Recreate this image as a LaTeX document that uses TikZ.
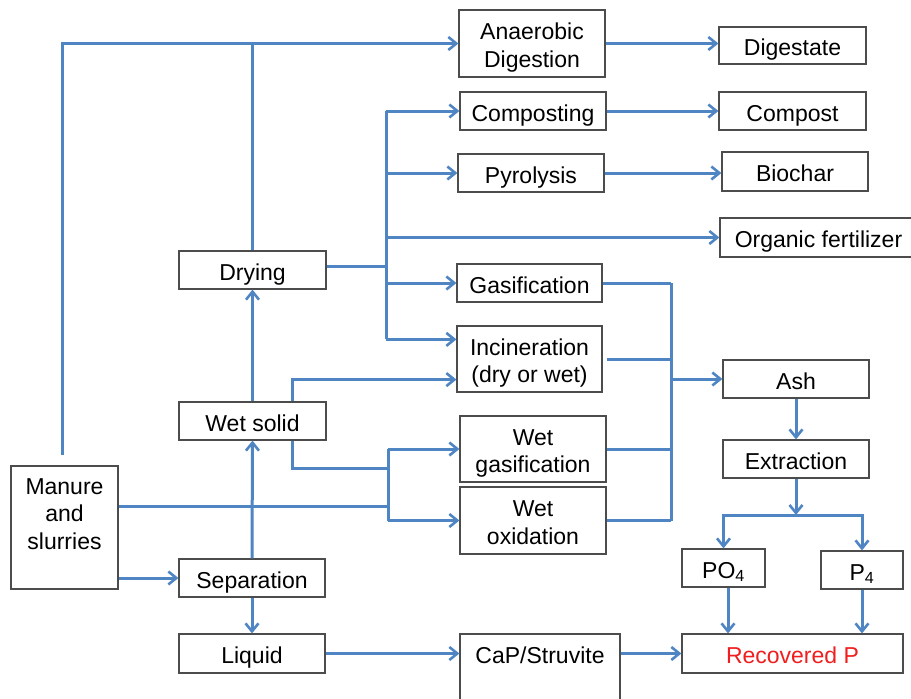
\documentclass[tikz,border=0pt]{standalone}
\usepackage{fontspec}
\setmainfont{Liberation Sans}
\usetikzlibrary{arrows.meta}
\definecolor{flowblue}{RGB}{80,133,196}
\definecolor{recred}{RGB}{240,30,30}
\tikzset{
  blk/.style={draw=black!70, line width=1.2pt, fill=white, align=center,
    inner sep=0pt, font=\fontsize{23}{27.5}\selectfont},
  txt/.style={text height=#1, text depth=0pt},
  txt/.default=20pt,
  bline/.style={draw=flowblue, line width=3pt},
  flow/.style={bline, -{Straight Barb[length=8pt,width=13pt,line width=2.6pt]}}
}

\begin{document}
\begin{tikzpicture}[x=1pt,y=-1pt]
        \useasboundingbox (0,0) rectangle (911,699);
        % 左侧方框
        \node[blk, minimum width=107pt, minimum height=123pt] (manure) at (64.5,527.5) {Manure\\and\\slurries\\~};
        \node[blk, txt, minimum width=147pt, minimum height=38pt] (drying) at (252.5,270) {Drying};
        \node[blk, txt, minimum width=147pt, minimum height=38pt] (wetsolid) at (252.5,421) {Wet solid};
        \node[blk, txt, minimum width=146pt, minimum height=38pt] (separ) at (252,578) {Separation};
        \node[blk, txt, minimum width=146pt, minimum height=39pt] (liquid) at (252,653.5) {Liquid};
        % 中间方框
        \node[blk, txt=47pt, minimum width=146pt, minimum height=67pt] (anaer) at (532,43.5) {Anaerobic\\Digestion};
        \node[blk, txt, minimum width=146pt, minimum height=38pt] (compo) at (533,111) {Composting};
        \node[blk, txt, minimum width=146pt, minimum height=38pt] (pyro) at (531,173) {Pyrolysis};
        \node[blk, txt, minimum width=145pt, minimum height=38pt] (gasif) at (529.5,283) {Gasification};
        \node[blk, txt=47pt, minimum width=145pt, minimum height=66pt] (incin) at (529.5,359) {Incineration\\(dry or wet)};
        \node[blk, txt=47pt, minimum width=146pt, minimum height=66pt] (wetgas) at (533,449) {Wet\\gasification};
        \node[blk, txt=47pt, minimum width=146pt, minimum height=67pt] (wetox) at (533,520.5) {Wet\\oxidation};
        \node[blk, minimum width=160pt, minimum height=97pt] (caps) at (540,682.5) {CaP/Struvite\\~\\~};
        % 右侧方框
        \node[blk, txt, minimum width=147pt, minimum height=37pt] (digest) at (792.5,45.5) {Digestate};
        \node[blk, txt, minimum width=147pt, minimum height=38pt] (compost) at (792.5,111) {Compost};
        \node[blk, txt, minimum width=146pt, minimum height=39pt] (biochar) at (795,171.5) {Biochar};
        \node[blk, txt, minimum width=197pt, minimum height=39pt] (orgfert) at (818.5,237.5) {Organic fertilizer};
        \node[blk, txt, minimum width=146pt, minimum height=38pt] (ash) at (796,379) {Ash};
        \node[blk, txt, minimum width=146pt, minimum height=38pt] (extract) at (796,459) {Extraction};
        \node[blk, txt, minimum width=83pt, minimum height=38pt] (po4) at (723.5,568) {PO\textsubscript{4}};
        \node[blk, txt, minimum width=82pt, minimum height=38pt] (p4) at (862,570) {P\textsubscript{4}};
        \node[blk, txt, minimum width=221pt, minimum height=39pt, text=recred] (recov) at (792.5,653.5) {Recovered P};

        % 汇流点
        \coordinate (busA) at (386,266);
        \coordinate (busB) at (388,468);
        \coordinate (busC) at (671,378);
        \coordinate (busD) at (796,515);
        \coordinate (incA) at ([yshift=-14pt]incin.north west);
        \coordinate (incB) at ([yshift=13pt]incin.south west);

        % 上方主线
        \draw[flow] ([xshift=-2.5pt,yshift=10pt]manure.north) |- (anaer.west);
        \draw[bline] (drying.north) -- (drying.north |- anaer.west);
        \draw[flow] (anaer.east) -- (anaer.east -| digest.west);
        \draw[flow] (compo.east) -- (compost.west);
        \draw[flow] (pyro.east) -- (pyro.east -| biochar.west);

        % 干燥后的分支
        \draw[bline] ([yshift=4pt]drying.east) -- (busA);
        \draw[bline] (busA |- compo.west) -- (busA |- incA);
        \foreach \n in {compo,pyro,orgfert,gasif}
            \draw[flow] (busA |- \n.west) -- (\n.west);
        \draw[flow] (busA |- incA) -- (incA);

        % 湿固体与分离
        \draw[flow] ([xshift=40pt]wetsolid.north) |- (incB);
        \draw[bline] ([xshift=40pt]wetsolid.south) |- (busB);
        \draw[bline] (busB |- wetgas.west) -- (busB |- wetox.west);
        \draw[flow] (busB |- wetgas.west) -- (wetgas.west);
        \draw[flow] (busB |- wetox.west) -- (wetox.west);
        \draw[bline] ([yshift=21.5pt]manure.east) -- ([yshift=21.5pt]manure.east -| busB);
        \draw[flow] (manure.east |- separ.west) -- (separ.west);
        \draw[flow] (separ.north) -- (wetsolid.south);
        \draw[flow] (wetsolid.north) -- (drying.south);
        \draw[flow] (separ.south) -- (liquid.north);
        \draw[flow] (liquid.east) -- (liquid.east -| caps.west);

        % 灰分与回收
        \draw[bline] (gasif.east) -- (gasif.east -| busC);
        \draw[bline] ([xshift=4pt]incin.east) -- (incin.east -| busC);
        \draw[bline] (wetgas.east) -- (wetgas.east -| busC);
        \draw[bline] (wetox.east) -- (wetox.east -| busC);
        \draw[bline] (gasif.east -| busC) -- (wetox.east -| busC);
        \draw[flow] (busC |- ash.west) -- (ash.west);
        \draw[flow] (ash.south) -- (extract.north);
        \draw[flow] (extract.south) -- (busD);
        \draw[flow] (busD) -| (po4.north);
        \draw[flow] (busD) -| (p4.north);
        \draw[flow] ([xshift=4.5pt]po4.south) -- ([xshift=4.5pt]po4.south |- recov.north);
        \draw[flow] (p4.south) -- (p4.south |- recov.north);
        \draw[flow] (caps.east |- recov.west) -- (recov.west);

    \end{tikzpicture}
\end{document}
